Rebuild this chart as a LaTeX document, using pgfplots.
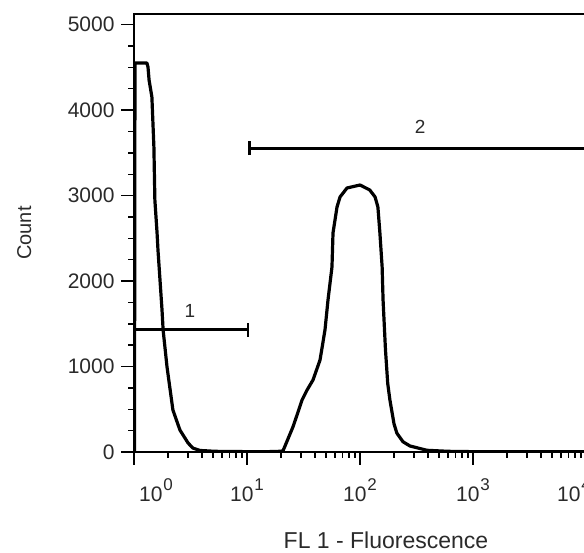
\documentclass[border=0pt]{standalone}
\usepackage{fontspec}
\setmainfont{Liberation Sans}
\usepackage{pgfplots}
\pgfplotsset{compat=1.18}
\definecolor{txt}{HTML}{2A2A2A}
\newcommand{\pw}[1]{10\hspace{1pt}\raisebox{11pt}{\fontsize{17}{17}\selectfont #1}}

\begin{document}
\begin{tikzpicture}
\begin{axis}[
    at={(134pt,100pt)}, anchor=south west,
    scale only axis, width=452pt, height=438pt,
    xmode=log, xmin=1, xmax=10000,
    ymin=0, ymax=5125,
    xtick={1,10,100,1000,10000},
    xticklabels={\hspace{44pt}\pw{0},\pw{1},\pw{2},\pw{3},\pw{4}\kern24pt\relax},
    ytick={0,1000,2000,3000,4000,5000},
    yticklabels={0,1000,2000,3000,4000,5000},
    minor y tick num=3,
    tick align=outside, tick pos=left,
    major tick length=13pt, minor tick length=6pt,
    every tick/.style={black, line width=1.4pt},
    axis line style={line width=2pt},
    font=\fontsize{21}{24}\selectfont,
    tick label style={txt},
    xticklabel style={yshift=-10pt},
    yticklabel style={xshift=-3pt},
    xlabel={FL 1 - Fluorescence}, ylabel={Count},
    xlabel style={at={(axis description cs:0.5,0)}, anchor=center, xshift=26pt, yshift=-88pt, font=\fontsize{23}{26}\selectfont, txt},
    ylabel style={at={(axis description cs:-0.243,0.5)}, anchor=center, font=\fontsize{20}{24}\selectfont, txt},
]
% histogram
\addplot[black, line width=3.2pt, line join=round] coordinates {
 (1.01,0) (1.02,4552) (1.30,4552) (1.33,4505) (1.36,4350) (1.44,4154) (1.50,3569)
 (1.53,2949) (1.60,2563) (1.63,2364) (1.77,1662) (1.81,1428) (1.96,995) (2.21,491)
 (2.55,257) (3.01,105) (3.33,45) (3.84,18) (5.2,8) (8,5) (12,4) (18,5) (20.8,12)
 (22.5,120) (25.5,293) (28,450) (30.7,608) (34.0,725) (38.4,843) (44.3,1077)
 (49.0,1428) (52.1,1779) (56.5,2165) (57.7,2563) (62.6,2867) (66.6,2984) (76.7,3089)
 (100,3124) (122,3066) (136,2984) (144,2867) (150,2563) (157,2165) (160,1779)
 (168,1200) (176,800) (184,608) (200,330) (212,220) (240,120) (277,70) (392,20)
 (600,8) (1000,4) (3000,4) (10000,4)
};
% gate 1
\addplot[black, line width=3pt] coordinates {(1,1428) (10.2,1428)};
\addplot[black, line width=2.8pt] coordinates {(10.2,1346) (10.2,1510)};
% gate 2
\addplot[black, line width=3pt] coordinates {(10.6,3557) (10000,3557)};
\addplot[black, line width=2.8pt] coordinates {(10.6,3475) (10.6,3640)};
\node[txt, font=\fontsize{19}{20}\selectfont] at (axis cs:3.13,1428) [yshift=19pt] {1};
\node[txt, font=\fontsize{19}{20}\selectfont] at (axis cs:340,3557) [yshift=21pt] {2};
\end{axis}
\pgfresetboundingbox
\path[use as bounding box] (0,0) rectangle (584pt,552pt);
\end{tikzpicture}
\end{document}
